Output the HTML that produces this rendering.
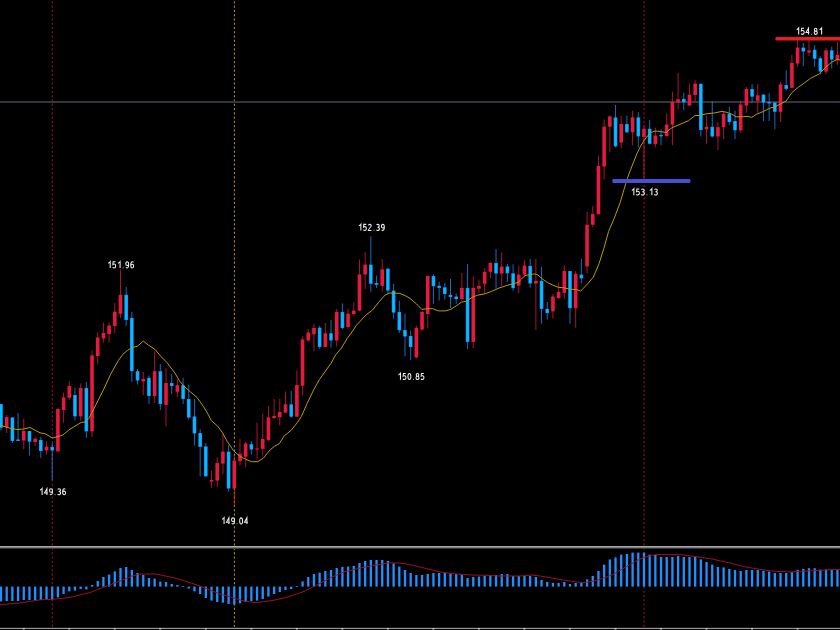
<!DOCTYPE html><html><head><meta charset="utf-8"><title>Chart</title><style>html,body{margin:0;padding:0;background:#000;overflow:hidden}svg{display:block}</style></head><body>
<svg width="840" height="630" viewBox="0 0 840 630">
<rect width="840" height="630" fill="#000"/>
<line x1="52.3" y1="0" x2="52.3" y2="546" stroke="#dc143c" stroke-width="0.8" stroke-dasharray="2.134 2.134" stroke-dashoffset="2.934"/><line x1="52.3" y1="547.933" x2="52.3" y2="627.5" stroke="#dc143c" stroke-width="0.8" stroke-dasharray="2.134 2.134"/>
<line x1="234.4" y1="0" x2="234.4" y2="546" stroke="#f0c000" stroke-width="0.8" stroke-dasharray="2.134 2.134" stroke-dashoffset="2.934"/><line x1="234.4" y1="547.933" x2="234.4" y2="627.5" stroke="#f0c000" stroke-width="0.8" stroke-dasharray="2.134 2.134"/>
<line x1="644.1" y1="0" x2="644.1" y2="546" stroke="#dc143c" stroke-width="0.8" stroke-dasharray="2.134 2.134" stroke-dashoffset="2.934"/><line x1="644.1" y1="547.933" x2="644.1" y2="627.5" stroke="#dc143c" stroke-width="0.8" stroke-dasharray="2.134 2.134"/>
<rect x="0" y="101" width="840" height="2" fill="#30363e"/>
<line x1="1.00" y1="404.0" x2="1.00" y2="430.6" stroke="#1e90ff" stroke-width="0.75"/>
<line x1="6.69" y1="415.0" x2="6.69" y2="433.0" stroke="#e61940" stroke-width="0.75"/>
<line x1="12.38" y1="417.0" x2="12.38" y2="443.0" stroke="#1e90ff" stroke-width="0.75"/>
<line x1="18.07" y1="413.0" x2="18.07" y2="441.0" stroke="#1e90ff" stroke-width="0.75"/>
<line x1="23.76" y1="418.5" x2="23.76" y2="449.4" stroke="#e61940" stroke-width="0.75"/>
<line x1="29.45" y1="431.0" x2="29.45" y2="455.6" stroke="#1e90ff" stroke-width="0.75"/>
<line x1="35.14" y1="437.0" x2="35.14" y2="446.0" stroke="#e61940" stroke-width="0.75"/>
<line x1="40.83" y1="437.0" x2="40.83" y2="458.0" stroke="#1e90ff" stroke-width="0.75"/>
<line x1="46.52" y1="441.0" x2="46.52" y2="454.5" stroke="#e61940" stroke-width="0.75"/>
<line x1="52.21" y1="443.0" x2="52.21" y2="480.3" stroke="#1e90ff" stroke-width="0.75"/>
<line x1="57.90" y1="408.0" x2="57.90" y2="451.4" stroke="#e61940" stroke-width="0.75"/>
<line x1="63.59" y1="392.7" x2="63.59" y2="422.6" stroke="#e61940" stroke-width="0.75"/>
<line x1="69.28" y1="381.0" x2="69.28" y2="400.0" stroke="#e61940" stroke-width="0.75"/>
<line x1="74.97" y1="387.5" x2="74.97" y2="420.5" stroke="#1e90ff" stroke-width="0.75"/>
<line x1="80.66" y1="383.4" x2="80.66" y2="420.5" stroke="#e61940" stroke-width="0.75"/>
<line x1="86.35" y1="382.0" x2="86.35" y2="438.0" stroke="#1e90ff" stroke-width="0.75"/>
<line x1="92.04" y1="350.3" x2="92.04" y2="437.0" stroke="#e61940" stroke-width="0.75"/>
<line x1="97.73" y1="332.3" x2="97.73" y2="364.3" stroke="#e61940" stroke-width="0.75"/>
<line x1="103.42" y1="322.6" x2="103.42" y2="342.6" stroke="#e61940" stroke-width="0.75"/>
<line x1="109.11" y1="322.6" x2="109.11" y2="342.6" stroke="#e61940" stroke-width="0.75"/>
<line x1="114.80" y1="302.8" x2="114.80" y2="333.4" stroke="#e61940" stroke-width="0.75"/>
<line x1="120.49" y1="269.4" x2="120.49" y2="318.0" stroke="#e61940" stroke-width="0.75"/>
<line x1="126.18" y1="287.0" x2="126.18" y2="326.0" stroke="#1e90ff" stroke-width="0.75"/>
<line x1="131.87" y1="311.7" x2="131.87" y2="382.0" stroke="#1e90ff" stroke-width="0.75"/>
<line x1="137.56" y1="369.0" x2="137.56" y2="384.6" stroke="#1e90ff" stroke-width="0.75"/>
<line x1="143.25" y1="372.0" x2="143.25" y2="395.0" stroke="#e61940" stroke-width="0.75"/>
<line x1="148.94" y1="375.3" x2="148.94" y2="404.0" stroke="#1e90ff" stroke-width="0.75"/>
<line x1="154.63" y1="351.5" x2="154.63" y2="403.0" stroke="#e61940" stroke-width="0.75"/>
<line x1="160.32" y1="364.0" x2="160.32" y2="410.0" stroke="#1e90ff" stroke-width="0.75"/>
<line x1="166.01" y1="368.0" x2="166.01" y2="426.4" stroke="#e61940" stroke-width="0.75"/>
<line x1="171.70" y1="374.3" x2="171.70" y2="393.9" stroke="#1e90ff" stroke-width="0.75"/>
<line x1="177.39" y1="379.4" x2="177.39" y2="397.0" stroke="#e61940" stroke-width="0.75"/>
<line x1="183.08" y1="377.8" x2="183.08" y2="404.0" stroke="#1e90ff" stroke-width="0.75"/>
<line x1="188.77" y1="384.6" x2="188.77" y2="419.6" stroke="#1e90ff" stroke-width="0.75"/>
<line x1="194.46" y1="399.0" x2="194.46" y2="445.4" stroke="#1e90ff" stroke-width="0.75"/>
<line x1="200.15" y1="429.3" x2="200.15" y2="476.3" stroke="#1e90ff" stroke-width="0.75"/>
<line x1="205.84" y1="443.0" x2="205.84" y2="476.4" stroke="#1e90ff" stroke-width="0.75"/>
<line x1="211.53" y1="470.8" x2="211.53" y2="487.8" stroke="#e61940" stroke-width="0.75"/>
<line x1="217.22" y1="457.2" x2="217.22" y2="487.0" stroke="#e61940" stroke-width="0.75"/>
<line x1="222.91" y1="434.0" x2="222.91" y2="474.4" stroke="#e61940" stroke-width="0.75"/>
<line x1="228.60" y1="445.0" x2="228.60" y2="491.5" stroke="#1e90ff" stroke-width="0.75"/>
<line x1="234.29" y1="455.7" x2="234.29" y2="506.4" stroke="#e61940" stroke-width="0.75"/>
<line x1="239.98" y1="439.0" x2="239.98" y2="465.7" stroke="#e61940" stroke-width="0.75"/>
<line x1="245.67" y1="442.0" x2="245.67" y2="467.3" stroke="#e61940" stroke-width="0.75"/>
<line x1="251.36" y1="441.2" x2="251.36" y2="454.4" stroke="#1e90ff" stroke-width="0.75"/>
<line x1="257.05" y1="422.5" x2="257.05" y2="459.0" stroke="#e61940" stroke-width="0.75"/>
<line x1="262.74" y1="413.8" x2="262.74" y2="455.5" stroke="#e61940" stroke-width="0.75"/>
<line x1="268.43" y1="406.0" x2="268.43" y2="441.0" stroke="#e61940" stroke-width="0.75"/>
<line x1="274.12" y1="398.8" x2="274.12" y2="419.4" stroke="#e61940" stroke-width="0.75"/>
<line x1="279.81" y1="398.8" x2="279.81" y2="425.6" stroke="#e61940" stroke-width="0.75"/>
<line x1="285.50" y1="391.5" x2="285.50" y2="413.0" stroke="#e61940" stroke-width="0.75"/>
<line x1="291.19" y1="390.5" x2="291.19" y2="418.0" stroke="#1e90ff" stroke-width="0.75"/>
<line x1="296.88" y1="370.5" x2="296.88" y2="416.7" stroke="#e61940" stroke-width="0.75"/>
<line x1="302.57" y1="336.3" x2="302.57" y2="395.3" stroke="#e61940" stroke-width="0.75"/>
<line x1="308.26" y1="329.0" x2="308.26" y2="341.5" stroke="#e61940" stroke-width="0.75"/>
<line x1="313.95" y1="323.6" x2="313.95" y2="350.8" stroke="#e61940" stroke-width="0.75"/>
<line x1="319.64" y1="326.0" x2="319.64" y2="348.7" stroke="#1e90ff" stroke-width="0.75"/>
<line x1="325.33" y1="323.0" x2="325.33" y2="347.0" stroke="#e61940" stroke-width="0.75"/>
<line x1="331.02" y1="319.8" x2="331.02" y2="347.7" stroke="#1e90ff" stroke-width="0.75"/>
<line x1="336.71" y1="309.0" x2="336.71" y2="346.6" stroke="#e61940" stroke-width="0.75"/>
<line x1="342.40" y1="303.4" x2="342.40" y2="329.1" stroke="#1e90ff" stroke-width="0.75"/>
<line x1="348.09" y1="309.0" x2="348.09" y2="328.0" stroke="#e61940" stroke-width="0.75"/>
<line x1="353.78" y1="302.3" x2="353.78" y2="315.7" stroke="#e61940" stroke-width="0.75"/>
<line x1="359.47" y1="259.6" x2="359.47" y2="311.2" stroke="#e61940" stroke-width="0.75"/>
<line x1="365.16" y1="252.2" x2="365.16" y2="289.0" stroke="#e61940" stroke-width="0.75"/>
<line x1="370.85" y1="236.3" x2="370.85" y2="292.0" stroke="#1e90ff" stroke-width="0.75"/>
<line x1="376.54" y1="275.5" x2="376.54" y2="287.9" stroke="#1e90ff" stroke-width="0.75"/>
<line x1="382.23" y1="259.0" x2="382.23" y2="291.4" stroke="#e61940" stroke-width="0.75"/>
<line x1="387.92" y1="267.9" x2="387.92" y2="294.0" stroke="#1e90ff" stroke-width="0.75"/>
<line x1="393.61" y1="283.8" x2="393.61" y2="318.8" stroke="#1e90ff" stroke-width="0.75"/>
<line x1="399.30" y1="300.8" x2="399.30" y2="332.9" stroke="#1e90ff" stroke-width="0.75"/>
<line x1="404.99" y1="313.5" x2="404.99" y2="356.3" stroke="#1e90ff" stroke-width="0.75"/>
<line x1="410.68" y1="330.6" x2="410.68" y2="360.0" stroke="#1e90ff" stroke-width="0.75"/>
<line x1="416.37" y1="325.8" x2="416.37" y2="358.4" stroke="#e61940" stroke-width="0.75"/>
<line x1="422.06" y1="311.0" x2="422.06" y2="331.2" stroke="#e61940" stroke-width="0.75"/>
<line x1="427.75" y1="275.5" x2="427.75" y2="328.5" stroke="#e61940" stroke-width="0.75"/>
<line x1="433.44" y1="274.3" x2="433.44" y2="303.8" stroke="#1e90ff" stroke-width="0.75"/>
<line x1="439.13" y1="281.7" x2="439.13" y2="300.7" stroke="#1e90ff" stroke-width="0.75"/>
<line x1="444.82" y1="283.0" x2="444.82" y2="299.6" stroke="#1e90ff" stroke-width="0.75"/>
<line x1="450.51" y1="279.0" x2="450.51" y2="307.9" stroke="#1e90ff" stroke-width="0.75"/>
<line x1="456.20" y1="293.5" x2="456.20" y2="303.8" stroke="#1e90ff" stroke-width="0.75"/>
<line x1="461.89" y1="272.8" x2="461.89" y2="300.7" stroke="#e61940" stroke-width="0.75"/>
<line x1="467.58" y1="264.0" x2="467.58" y2="349.0" stroke="#1e90ff" stroke-width="0.75"/>
<line x1="473.27" y1="276.3" x2="473.27" y2="348.0" stroke="#e61940" stroke-width="0.75"/>
<line x1="478.96" y1="279.6" x2="478.96" y2="292.8" stroke="#e61940" stroke-width="0.75"/>
<line x1="484.65" y1="268.0" x2="484.65" y2="293.5" stroke="#e61940" stroke-width="0.75"/>
<line x1="490.34" y1="262.0" x2="490.34" y2="278.0" stroke="#e61940" stroke-width="0.75"/>
<line x1="496.03" y1="249.0" x2="496.03" y2="288.7" stroke="#1e90ff" stroke-width="0.75"/>
<line x1="501.72" y1="252.2" x2="501.72" y2="286.2" stroke="#e61940" stroke-width="0.75"/>
<line x1="507.41" y1="264.0" x2="507.41" y2="282.0" stroke="#1e90ff" stroke-width="0.75"/>
<line x1="513.10" y1="264.4" x2="513.10" y2="290.7" stroke="#1e90ff" stroke-width="0.75"/>
<line x1="518.79" y1="265.6" x2="518.79" y2="293.2" stroke="#e61940" stroke-width="0.75"/>
<line x1="524.48" y1="260.2" x2="524.48" y2="276.7" stroke="#e61940" stroke-width="0.75"/>
<line x1="530.17" y1="258.8" x2="530.17" y2="287.6" stroke="#1e90ff" stroke-width="0.75"/>
<line x1="535.86" y1="258.8" x2="535.86" y2="330.0" stroke="#e61940" stroke-width="0.75"/>
<line x1="541.55" y1="267.0" x2="541.55" y2="323.7" stroke="#1e90ff" stroke-width="0.75"/>
<line x1="547.24" y1="302.0" x2="547.24" y2="319.6" stroke="#1e90ff" stroke-width="0.75"/>
<line x1="552.93" y1="293.8" x2="552.93" y2="318.6" stroke="#e61940" stroke-width="0.75"/>
<line x1="558.62" y1="282.5" x2="558.62" y2="299.0" stroke="#e61940" stroke-width="0.75"/>
<line x1="564.31" y1="265.0" x2="564.31" y2="298.6" stroke="#e61940" stroke-width="0.75"/>
<line x1="570.00" y1="271.0" x2="570.00" y2="323.7" stroke="#1e90ff" stroke-width="0.75"/>
<line x1="575.69" y1="271.0" x2="575.69" y2="327.8" stroke="#e61940" stroke-width="0.75"/>
<line x1="581.38" y1="258.8" x2="581.38" y2="283.5" stroke="#1e90ff" stroke-width="0.75"/>
<line x1="587.07" y1="212.0" x2="587.07" y2="273.2" stroke="#e61940" stroke-width="0.75"/>
<line x1="592.76" y1="205.8" x2="592.76" y2="227.2" stroke="#e61940" stroke-width="0.75"/>
<line x1="598.45" y1="155.6" x2="598.45" y2="214.4" stroke="#e61940" stroke-width="0.75"/>
<line x1="604.14" y1="119.5" x2="604.14" y2="179.3" stroke="#e61940" stroke-width="0.75"/>
<line x1="609.83" y1="115.4" x2="609.83" y2="152.5" stroke="#e61940" stroke-width="0.75"/>
<line x1="615.52" y1="105.0" x2="615.52" y2="147.3" stroke="#1e90ff" stroke-width="0.75"/>
<line x1="621.21" y1="115.8" x2="621.21" y2="148.0" stroke="#e61940" stroke-width="0.75"/>
<line x1="626.90" y1="115.8" x2="626.90" y2="132.9" stroke="#1e90ff" stroke-width="0.75"/>
<line x1="632.59" y1="110.8" x2="632.59" y2="145.3" stroke="#e61940" stroke-width="0.75"/>
<line x1="638.28" y1="112.3" x2="638.28" y2="147.3" stroke="#1e90ff" stroke-width="0.75"/>
<line x1="643.97" y1="125.7" x2="643.97" y2="178.3" stroke="#e61940" stroke-width="0.75"/>
<line x1="649.66" y1="119.9" x2="649.66" y2="144.2" stroke="#1e90ff" stroke-width="0.75"/>
<line x1="655.35" y1="127.7" x2="655.35" y2="147.3" stroke="#e61940" stroke-width="0.75"/>
<line x1="661.04" y1="129.4" x2="661.04" y2="145.3" stroke="#1e90ff" stroke-width="0.75"/>
<line x1="666.73" y1="113.3" x2="666.73" y2="137.0" stroke="#e61940" stroke-width="0.75"/>
<line x1="672.42" y1="91.6" x2="672.42" y2="145.3" stroke="#e61940" stroke-width="0.75"/>
<line x1="678.11" y1="73.0" x2="678.11" y2="109.2" stroke="#e61940" stroke-width="0.75"/>
<line x1="683.80" y1="92.7" x2="683.80" y2="110.2" stroke="#1e90ff" stroke-width="0.75"/>
<line x1="689.49" y1="83.4" x2="689.49" y2="106.0" stroke="#e61940" stroke-width="0.75"/>
<line x1="695.18" y1="80.3" x2="695.18" y2="102.0" stroke="#e61940" stroke-width="0.75"/>
<line x1="700.87" y1="82.9" x2="700.87" y2="136.5" stroke="#1e90ff" stroke-width="0.75"/>
<line x1="706.56" y1="115.9" x2="706.56" y2="143.7" stroke="#e61940" stroke-width="0.75"/>
<line x1="712.25" y1="101.4" x2="712.25" y2="137.5" stroke="#1e90ff" stroke-width="0.75"/>
<line x1="717.94" y1="122.0" x2="717.94" y2="150.0" stroke="#e61940" stroke-width="0.75"/>
<line x1="723.63" y1="111.8" x2="723.63" y2="139.2" stroke="#e61940" stroke-width="0.75"/>
<line x1="729.32" y1="106.6" x2="729.32" y2="124.7" stroke="#1e90ff" stroke-width="0.75"/>
<line x1="735.01" y1="110.7" x2="735.01" y2="139.2" stroke="#1e90ff" stroke-width="0.75"/>
<line x1="740.70" y1="100.4" x2="740.70" y2="133.0" stroke="#e61940" stroke-width="0.75"/>
<line x1="746.39" y1="87.0" x2="746.39" y2="112.8" stroke="#e61940" stroke-width="0.75"/>
<line x1="752.08" y1="84.3" x2="752.08" y2="102.5" stroke="#1e90ff" stroke-width="0.75"/>
<line x1="757.77" y1="83.9" x2="757.77" y2="112.8" stroke="#e61940" stroke-width="0.75"/>
<line x1="763.46" y1="94.2" x2="763.46" y2="121.0" stroke="#1e90ff" stroke-width="0.75"/>
<line x1="769.15" y1="93.2" x2="769.15" y2="121.0" stroke="#1e90ff" stroke-width="0.75"/>
<line x1="774.84" y1="102.0" x2="774.84" y2="129.3" stroke="#1e90ff" stroke-width="0.75"/>
<line x1="780.53" y1="81.9" x2="780.53" y2="122.0" stroke="#e61940" stroke-width="0.75"/>
<line x1="786.22" y1="70.3" x2="786.22" y2="90.5" stroke="#1e90ff" stroke-width="0.75"/>
<line x1="791.91" y1="54.7" x2="791.91" y2="88.0" stroke="#e61940" stroke-width="0.75"/>
<line x1="797.60" y1="39.3" x2="797.60" y2="67.0" stroke="#e61940" stroke-width="0.75"/>
<line x1="803.29" y1="43.0" x2="803.29" y2="66.3" stroke="#1e90ff" stroke-width="0.75"/>
<line x1="808.98" y1="39.3" x2="808.98" y2="56.1" stroke="#e61940" stroke-width="0.75"/>
<line x1="814.67" y1="45.3" x2="814.67" y2="67.0" stroke="#1e90ff" stroke-width="0.75"/>
<line x1="820.36" y1="56.5" x2="820.36" y2="74.3" stroke="#1e90ff" stroke-width="0.75"/>
<line x1="826.05" y1="48.0" x2="826.05" y2="74.3" stroke="#e61940" stroke-width="0.75"/>
<line x1="831.74" y1="46.7" x2="831.74" y2="68.3" stroke="#1e90ff" stroke-width="0.75"/>
<line x1="837.43" y1="42.0" x2="837.43" y2="64.9" stroke="#e61940" stroke-width="0.75"/>
<rect x="-0.80" y="404.0" width="3.6" height="23.80" fill="#1e90ff"/>
<rect x="-0.10" y="404.70" width="2.2" height="22.40" fill="#00bfff"/>
<rect x="4.89" y="417.0" width="3.6" height="10.30" fill="#e61940"/>
<rect x="10.58" y="417.4" width="3.6" height="23.60" fill="#1e90ff"/>
<rect x="11.28" y="418.10" width="2.2" height="22.20" fill="#00bfff"/>
<rect x="16.27" y="439.5" width="3.6" height="1.50" fill="#1e90ff"/>
<rect x="21.96" y="431.0" width="3.6" height="9.50" fill="#e61940"/>
<rect x="27.65" y="431.0" width="3.6" height="10.70" fill="#1e90ff"/>
<rect x="28.35" y="431.70" width="2.2" height="9.30" fill="#00bfff"/>
<rect x="33.34" y="438.7" width="3.6" height="3.30" fill="#e61940"/>
<rect x="39.03" y="440.0" width="3.6" height="11.00" fill="#1e90ff"/>
<rect x="39.73" y="440.70" width="2.2" height="9.60" fill="#00bfff"/>
<rect x="44.72" y="446.7" width="3.6" height="3.70" fill="#e61940"/>
<rect x="50.41" y="447.0" width="3.6" height="3.40" fill="#1e90ff"/>
<rect x="51.11" y="447.70" width="2.2" height="2.00" fill="#00bfff"/>
<rect x="56.10" y="409.0" width="3.6" height="42.40" fill="#e61940"/>
<rect x="61.79" y="397.4" width="3.6" height="12.60" fill="#e61940"/>
<rect x="67.48" y="386.0" width="3.6" height="11.80" fill="#e61940"/>
<rect x="73.17" y="395.0" width="3.6" height="21.40" fill="#1e90ff"/>
<rect x="73.87" y="395.70" width="2.2" height="20.00" fill="#00bfff"/>
<rect x="78.86" y="388.0" width="3.6" height="28.40" fill="#e61940"/>
<rect x="84.55" y="388.0" width="3.6" height="43.40" fill="#1e90ff"/>
<rect x="85.25" y="388.70" width="2.2" height="42.00" fill="#00bfff"/>
<rect x="90.24" y="355.4" width="3.6" height="76.00" fill="#e61940"/>
<rect x="95.93" y="337.5" width="3.6" height="18.50" fill="#e61940"/>
<rect x="101.62" y="333.0" width="3.6" height="5.50" fill="#e61940"/>
<rect x="107.31" y="325.5" width="3.6" height="8.50" fill="#e61940"/>
<rect x="113.00" y="311.7" width="3.6" height="14.30" fill="#e61940"/>
<rect x="118.69" y="294.8" width="3.6" height="19.00" fill="#e61940"/>
<rect x="124.38" y="294.8" width="3.6" height="25.20" fill="#1e90ff"/>
<rect x="125.08" y="295.50" width="2.2" height="23.80" fill="#00bfff"/>
<rect x="130.07" y="318.0" width="3.6" height="53.20" fill="#1e90ff"/>
<rect x="130.77" y="318.70" width="2.2" height="51.80" fill="#00bfff"/>
<rect x="135.76" y="371.2" width="3.6" height="9.30" fill="#1e90ff"/>
<rect x="136.46" y="371.90" width="2.2" height="7.90" fill="#00bfff"/>
<rect x="141.45" y="379.0" width="3.6" height="2.50" fill="#e61940"/>
<rect x="147.14" y="377.8" width="3.6" height="18.20" fill="#1e90ff"/>
<rect x="147.84" y="378.50" width="2.2" height="16.80" fill="#00bfff"/>
<rect x="152.83" y="371.2" width="3.6" height="24.80" fill="#e61940"/>
<rect x="158.52" y="371.2" width="3.6" height="32.80" fill="#1e90ff"/>
<rect x="159.22" y="371.90" width="2.2" height="31.40" fill="#00bfff"/>
<rect x="164.21" y="383.0" width="3.6" height="21.80" fill="#e61940"/>
<rect x="169.90" y="383.0" width="3.6" height="3.00" fill="#1e90ff"/>
<rect x="170.60" y="383.70" width="2.2" height="1.60" fill="#00bfff"/>
<rect x="175.59" y="385.2" width="3.6" height="6.60" fill="#e61940"/>
<rect x="181.28" y="385.2" width="3.6" height="13.80" fill="#1e90ff"/>
<rect x="181.98" y="385.90" width="2.2" height="12.40" fill="#00bfff"/>
<rect x="186.97" y="399.0" width="3.6" height="18.60" fill="#1e90ff"/>
<rect x="187.67" y="399.70" width="2.2" height="17.20" fill="#00bfff"/>
<rect x="192.66" y="416.5" width="3.6" height="17.00" fill="#1e90ff"/>
<rect x="193.36" y="417.20" width="2.2" height="15.60" fill="#00bfff"/>
<rect x="198.35" y="433.0" width="3.6" height="13.90" fill="#1e90ff"/>
<rect x="199.05" y="433.70" width="2.2" height="12.50" fill="#00bfff"/>
<rect x="204.04" y="446.4" width="3.6" height="30.00" fill="#1e90ff"/>
<rect x="204.74" y="447.10" width="2.2" height="28.60" fill="#00bfff"/>
<rect x="209.73" y="480.0" width="3.6" height="1.60" fill="#e61940"/>
<rect x="215.42" y="463.0" width="3.6" height="17.60" fill="#e61940"/>
<rect x="221.11" y="451.6" width="3.6" height="12.00" fill="#e61940"/>
<rect x="226.80" y="451.6" width="3.6" height="36.90" fill="#1e90ff"/>
<rect x="227.50" y="452.30" width="2.2" height="35.50" fill="#00bfff"/>
<rect x="232.49" y="460.6" width="3.6" height="27.90" fill="#e61940"/>
<rect x="238.18" y="453.8" width="3.6" height="7.40" fill="#e61940"/>
<rect x="243.87" y="443.5" width="3.6" height="13.20" fill="#e61940"/>
<rect x="249.56" y="444.2" width="3.6" height="5.30" fill="#1e90ff"/>
<rect x="250.26" y="444.90" width="2.2" height="3.90" fill="#00bfff"/>
<rect x="255.25" y="448.5" width="3.6" height="1.10" fill="#e61940"/>
<rect x="260.94" y="439.0" width="3.6" height="9.90" fill="#e61940"/>
<rect x="266.63" y="417.3" width="3.6" height="22.70" fill="#e61940"/>
<rect x="272.32" y="415.9" width="3.6" height="2.10" fill="#e61940"/>
<rect x="278.01" y="412.0" width="3.6" height="5.30" fill="#e61940"/>
<rect x="283.70" y="404.3" width="3.6" height="8.30" fill="#e61940"/>
<rect x="289.39" y="404.3" width="3.6" height="12.40" fill="#1e90ff"/>
<rect x="290.09" y="405.00" width="2.2" height="11.00" fill="#00bfff"/>
<rect x="295.08" y="385.0" width="3.6" height="31.70" fill="#e61940"/>
<rect x="300.77" y="339.4" width="3.6" height="46.40" fill="#e61940"/>
<rect x="306.46" y="332.6" width="3.6" height="7.90" fill="#e61940"/>
<rect x="312.15" y="328.0" width="3.6" height="6.30" fill="#e61940"/>
<rect x="317.84" y="327.7" width="3.6" height="19.30" fill="#1e90ff"/>
<rect x="318.54" y="328.40" width="2.2" height="17.90" fill="#00bfff"/>
<rect x="323.53" y="333.2" width="3.6" height="13.80" fill="#e61940"/>
<rect x="329.22" y="333.2" width="3.6" height="7.30" fill="#1e90ff"/>
<rect x="329.92" y="333.90" width="2.2" height="5.90" fill="#00bfff"/>
<rect x="334.91" y="312.0" width="3.6" height="28.50" fill="#e61940"/>
<rect x="340.60" y="312.0" width="3.6" height="16.00" fill="#1e90ff"/>
<rect x="341.30" y="312.70" width="2.2" height="14.60" fill="#00bfff"/>
<rect x="346.29" y="313.7" width="3.6" height="13.30" fill="#e61940"/>
<rect x="351.98" y="310.6" width="3.6" height="3.40" fill="#e61940"/>
<rect x="357.67" y="274.5" width="3.6" height="36.10" fill="#e61940"/>
<rect x="363.36" y="264.6" width="3.6" height="9.90" fill="#e61940"/>
<rect x="369.05" y="264.6" width="3.6" height="19.20" fill="#1e90ff"/>
<rect x="369.75" y="265.30" width="2.2" height="17.80" fill="#00bfff"/>
<rect x="374.74" y="283.0" width="3.6" height="1.80" fill="#1e90ff"/>
<rect x="375.44" y="283.70" width="2.2" height="0.40" fill="#00bfff"/>
<rect x="380.43" y="269.3" width="3.6" height="16.50" fill="#e61940"/>
<rect x="386.12" y="268.7" width="3.6" height="21.90" fill="#1e90ff"/>
<rect x="386.82" y="269.40" width="2.2" height="20.50" fill="#00bfff"/>
<rect x="391.81" y="290.6" width="3.6" height="22.00" fill="#1e90ff"/>
<rect x="392.51" y="291.30" width="2.2" height="20.60" fill="#00bfff"/>
<rect x="397.50" y="312.0" width="3.6" height="18.30" fill="#1e90ff"/>
<rect x="398.20" y="312.70" width="2.2" height="16.90" fill="#00bfff"/>
<rect x="403.19" y="330.0" width="3.6" height="6.50" fill="#1e90ff"/>
<rect x="403.89" y="330.70" width="2.2" height="5.10" fill="#00bfff"/>
<rect x="408.88" y="336.0" width="3.6" height="11.00" fill="#1e90ff"/>
<rect x="409.58" y="336.70" width="2.2" height="9.60" fill="#00bfff"/>
<rect x="414.57" y="327.9" width="3.6" height="29.50" fill="#e61940"/>
<rect x="420.26" y="312.0" width="3.6" height="17.50" fill="#e61940"/>
<rect x="425.95" y="276.0" width="3.6" height="38.00" fill="#e61940"/>
<rect x="431.64" y="276.0" width="3.6" height="10.20" fill="#1e90ff"/>
<rect x="432.34" y="276.70" width="2.2" height="8.80" fill="#00bfff"/>
<rect x="437.33" y="285.8" width="3.6" height="2.10" fill="#1e90ff"/>
<rect x="438.03" y="286.50" width="2.2" height="0.70" fill="#00bfff"/>
<rect x="443.02" y="287.3" width="3.6" height="6.70" fill="#1e90ff"/>
<rect x="443.72" y="288.00" width="2.2" height="5.30" fill="#00bfff"/>
<rect x="448.71" y="294.9" width="3.6" height="2.10" fill="#1e90ff"/>
<rect x="449.41" y="295.60" width="2.2" height="0.70" fill="#00bfff"/>
<rect x="454.40" y="296.5" width="3.6" height="2.50" fill="#1e90ff"/>
<rect x="455.10" y="297.20" width="2.2" height="1.10" fill="#00bfff"/>
<rect x="460.09" y="287.9" width="3.6" height="11.10" fill="#e61940"/>
<rect x="465.78" y="287.9" width="3.6" height="54.00" fill="#1e90ff"/>
<rect x="466.48" y="288.60" width="2.2" height="52.60" fill="#00bfff"/>
<rect x="471.47" y="287.9" width="3.6" height="54.00" fill="#e61940"/>
<rect x="477.16" y="285.8" width="3.6" height="2.90" fill="#e61940"/>
<rect x="482.85" y="271.8" width="3.6" height="12.00" fill="#e61940"/>
<rect x="488.54" y="263.0" width="3.6" height="8.80" fill="#e61940"/>
<rect x="494.23" y="263.0" width="3.6" height="10.50" fill="#1e90ff"/>
<rect x="494.93" y="263.70" width="2.2" height="9.10" fill="#00bfff"/>
<rect x="499.92" y="266.6" width="3.6" height="6.90" fill="#e61940"/>
<rect x="505.61" y="266.5" width="3.6" height="6.80" fill="#1e90ff"/>
<rect x="506.31" y="267.20" width="2.2" height="5.40" fill="#00bfff"/>
<rect x="511.30" y="273.3" width="3.6" height="14.90" fill="#1e90ff"/>
<rect x="512.00" y="274.00" width="2.2" height="13.50" fill="#00bfff"/>
<rect x="516.99" y="274.6" width="3.6" height="11.00" fill="#e61940"/>
<rect x="522.68" y="265.6" width="3.6" height="9.00" fill="#e61940"/>
<rect x="528.37" y="266.0" width="3.6" height="17.50" fill="#1e90ff"/>
<rect x="529.07" y="266.70" width="2.2" height="16.10" fill="#00bfff"/>
<rect x="534.06" y="280.8" width="3.6" height="2.70" fill="#e61940"/>
<rect x="539.75" y="280.8" width="3.6" height="28.10" fill="#1e90ff"/>
<rect x="540.45" y="281.50" width="2.2" height="26.70" fill="#00bfff"/>
<rect x="545.44" y="308.9" width="3.6" height="4.10" fill="#1e90ff"/>
<rect x="546.14" y="309.60" width="2.2" height="2.70" fill="#00bfff"/>
<rect x="551.13" y="296.5" width="3.6" height="14.80" fill="#e61940"/>
<rect x="556.82" y="291.8" width="3.6" height="6.20" fill="#e61940"/>
<rect x="562.51" y="271.0" width="3.6" height="21.80" fill="#e61940"/>
<rect x="568.20" y="271.0" width="3.6" height="37.20" fill="#1e90ff"/>
<rect x="568.90" y="271.70" width="2.2" height="35.80" fill="#00bfff"/>
<rect x="573.89" y="273.8" width="3.6" height="34.40" fill="#e61940"/>
<rect x="579.58" y="274.6" width="3.6" height="3.80" fill="#1e90ff"/>
<rect x="580.28" y="275.30" width="2.2" height="2.40" fill="#00bfff"/>
<rect x="585.27" y="224.7" width="3.6" height="41.70" fill="#e61940"/>
<rect x="590.96" y="214.0" width="3.6" height="10.70" fill="#e61940"/>
<rect x="596.65" y="165.9" width="3.6" height="48.50" fill="#e61940"/>
<rect x="602.34" y="126.7" width="3.6" height="39.80" fill="#e61940"/>
<rect x="608.03" y="116.4" width="3.6" height="10.30" fill="#e61940"/>
<rect x="613.72" y="117.4" width="3.6" height="28.90" fill="#1e90ff"/>
<rect x="614.42" y="118.10" width="2.2" height="27.50" fill="#00bfff"/>
<rect x="619.41" y="124.0" width="3.6" height="18.60" fill="#e61940"/>
<rect x="625.10" y="124.0" width="3.6" height="8.30" fill="#1e90ff"/>
<rect x="625.80" y="124.70" width="2.2" height="6.90" fill="#00bfff"/>
<rect x="630.79" y="117.4" width="3.6" height="14.90" fill="#e61940"/>
<rect x="636.48" y="117.4" width="3.6" height="19.00" fill="#1e90ff"/>
<rect x="637.18" y="118.10" width="2.2" height="17.60" fill="#00bfff"/>
<rect x="642.17" y="128.8" width="3.6" height="8.20" fill="#e61940"/>
<rect x="647.86" y="128.8" width="3.6" height="15.00" fill="#1e90ff"/>
<rect x="648.56" y="129.50" width="2.2" height="13.60" fill="#00bfff"/>
<rect x="653.55" y="135.6" width="3.6" height="8.60" fill="#e61940"/>
<rect x="659.24" y="135.0" width="3.6" height="1.40" fill="#1e90ff"/>
<rect x="664.93" y="124.6" width="3.6" height="11.40" fill="#e61940"/>
<rect x="670.62" y="102.0" width="3.6" height="22.60" fill="#e61940"/>
<rect x="676.31" y="99.3" width="3.6" height="3.30" fill="#e61940"/>
<rect x="682.00" y="98.9" width="3.6" height="3.30" fill="#1e90ff"/>
<rect x="682.70" y="99.60" width="2.2" height="1.90" fill="#00bfff"/>
<rect x="687.69" y="94.7" width="3.6" height="10.80" fill="#e61940"/>
<rect x="693.38" y="83.6" width="3.6" height="11.40" fill="#e61940"/>
<rect x="699.07" y="83.9" width="3.6" height="46.10" fill="#1e90ff"/>
<rect x="699.77" y="84.60" width="2.2" height="44.70" fill="#00bfff"/>
<rect x="704.76" y="126.8" width="3.6" height="2.50" fill="#e61940"/>
<rect x="710.45" y="126.8" width="3.6" height="9.70" fill="#1e90ff"/>
<rect x="711.15" y="127.50" width="2.2" height="8.30" fill="#00bfff"/>
<rect x="716.14" y="127.2" width="3.6" height="9.30" fill="#e61940"/>
<rect x="721.83" y="113.8" width="3.6" height="13.40" fill="#e61940"/>
<rect x="727.52" y="113.8" width="3.6" height="8.20" fill="#1e90ff"/>
<rect x="728.22" y="114.50" width="2.2" height="6.80" fill="#00bfff"/>
<rect x="733.21" y="121.0" width="3.6" height="9.30" fill="#1e90ff"/>
<rect x="733.91" y="121.70" width="2.2" height="7.90" fill="#00bfff"/>
<rect x="738.90" y="104.5" width="3.6" height="25.80" fill="#e61940"/>
<rect x="744.59" y="89.0" width="3.6" height="16.60" fill="#e61940"/>
<rect x="750.28" y="89.0" width="3.6" height="7.70" fill="#1e90ff"/>
<rect x="750.98" y="89.70" width="2.2" height="6.30" fill="#00bfff"/>
<rect x="755.97" y="95.3" width="3.6" height="5.50" fill="#e61940"/>
<rect x="761.66" y="94.6" width="3.6" height="7.90" fill="#1e90ff"/>
<rect x="762.36" y="95.30" width="2.2" height="6.50" fill="#00bfff"/>
<rect x="767.35" y="102.0" width="3.6" height="1.50" fill="#1e90ff"/>
<rect x="773.04" y="102.5" width="3.6" height="9.30" fill="#1e90ff"/>
<rect x="773.74" y="103.20" width="2.2" height="7.90" fill="#00bfff"/>
<rect x="778.73" y="84.3" width="3.6" height="27.50" fill="#e61940"/>
<rect x="784.42" y="85.1" width="3.6" height="3.80" fill="#1e90ff"/>
<rect x="785.12" y="85.80" width="2.2" height="2.40" fill="#00bfff"/>
<rect x="790.11" y="62.9" width="3.6" height="24.90" fill="#e61940"/>
<rect x="795.80" y="47.6" width="3.6" height="16.00" fill="#e61940"/>
<rect x="801.49" y="47.6" width="3.6" height="3.90" fill="#1e90ff"/>
<rect x="802.19" y="48.30" width="2.2" height="2.50" fill="#00bfff"/>
<rect x="807.18" y="50.4" width="3.6" height="2.10" fill="#e61940"/>
<rect x="812.87" y="49.8" width="3.6" height="9.00" fill="#1e90ff"/>
<rect x="813.57" y="50.50" width="2.2" height="7.60" fill="#00bfff"/>
<rect x="818.56" y="58.2" width="3.6" height="13.40" fill="#1e90ff"/>
<rect x="819.26" y="58.90" width="2.2" height="12.00" fill="#00bfff"/>
<rect x="824.25" y="50.3" width="3.6" height="21.30" fill="#e61940"/>
<rect x="829.94" y="50.3" width="3.6" height="9.20" fill="#1e90ff"/>
<rect x="830.64" y="51.00" width="2.2" height="7.80" fill="#00bfff"/>
<rect x="835.63" y="54.8" width="3.6" height="5.40" fill="#e61940"/>
<polyline fill="none" stroke="#bc9a00" stroke-width="1" stroke-linejoin="round" points="0,424.8 6.2,427.2 12.4,428.8 18,429.5 23.7,429 30,427.5 40,432.8 45.6,433.9 52.2,438 57.8,436.7 62.8,435 68.9,430 73.3,427.2 78.9,423.9 81.1,422.4 85.6,422 88.9,418.3 93.3,410 98.3,400 103.9,388.9 110.6,374.4 118.3,360.6 122.8,354.4 127.2,350.6 131.7,347.6 137.2,346.4 143.3,341.1 148.3,345 155,349.4 160.6,356.1 167.2,362.8 170,366.6 174.8,372.9 179.5,380.9 184.3,386.4 190.6,392 197,397.5 203.3,406.3 208.1,414.2 211.3,420.6 217.6,426.1 222.4,432.5 227.1,441.2 233.5,450.7 239.8,456.3 245.7,459.3 251.4,461.7 257.9,461.7 263.6,457.9 270,450 274.3,446.4 279.3,443.6 284.3,435.7 287.1,433.6 291.4,430 297.1,422.9 301.4,416.4 307.1,403.6 313.8,389.5 319.5,379.5 326.2,370 331,363.3 335.7,354.8 341.4,348.1 347.1,338.6 353.3,330 356.5,325.2 366,314.9 372.4,310.2 378.7,302.2 385.1,295.1 389.8,293 399.4,293.3 405.7,295.9 410,298.4 416.4,303.8 421.8,309.4 427.1,308.8 432.5,308.6 438.4,310.9 445.4,310.9 450.7,309.4 456.1,305.9 461.4,302.2 466.8,301.1 472.2,297.3 477.5,295.2 485,293.8 491.5,291.4 500,287.7 507.9,285.2 512.1,284.1 518,282.5 521.3,279.3 525,275.5 530.4,274.5 534.7,273.9 537.9,275 542.2,278.8 547.5,282.5 552.9,285.2 558.2,287.3 564.7,287.9 570,289.2 576.5,289.5 580.7,291.1 587.6,283.8 593.3,277.1 599,263.8 603.8,248.6 608.6,231.4 614.3,218.1 620,202.9 625.7,183.8 627.4,178.3 630.2,170.7 633.6,162.1 636.9,153.6 640.2,146.9 643.6,141.2 647.4,136 651.2,132.6 654,131.2 657.9,131.2 661.7,131.7 666,132.5 671.9,127.7 679,124.8 688.6,120.6 695.1,115.5 700.5,115.5 705.2,114 714.8,112.9 721.9,111.4 726.7,112.3 731.4,114 736.2,116.8 743.3,116.7 748.1,116.4 751.7,117.4 756.4,114.3 762.8,111.7 769.4,108.3 775,106.7 780.6,103.9 786.1,101.1 791.7,92.8 798.3,87.2 803.9,83.3 810.6,78.3 819.4,73.9 825,67.8 831.7,62.2 837.2,59.4 840,60"/>
<rect x="612.4" y="179.1" width="78" height="3.8" rx="1.2" fill="#4650d2"/>
<rect x="775.3" y="37.1" width="70" height="3.4" rx="1.5" fill="#e61e23"/>
<g role="img" aria-label="151.96" fill="none" stroke="#eeeeee" stroke-width="1.05"><title>151.96</title><path transform="translate(107.33,261.40)" d="M0.8,1.95 C1.8,1.55 2.4,1.0 2.85,0.3 L2.85,6.7"/><path transform="translate(112.28,261.40)" d="M3.25,0.45 L0.85,0.45 L0.6,3.15 C1.0,2.85 1.4,2.7 1.9,2.7 C2.85,2.7 3.4,3.4 3.4,4.55 C3.4,5.8 2.7,6.55 1.75,6.55 C1.2,6.55 0.7,6.35 0.35,5.85"/><path transform="translate(117.23,261.40)" d="M0.8,1.95 C1.8,1.55 2.4,1.0 2.85,0.3 L2.85,6.7"/><rect x="122.73" y="267.35" width="0.9" height="0.95" fill="#c8c8c8" stroke="none"/><path transform="translate(125.33,261.40)" d="M0.65,6.0 C0.95,6.4 1.35,6.55 1.8,6.55 C2.8,6.55 3.35,5.4 3.35,3.2 C3.35,1.4 2.8,0.45 1.85,0.45 C1.0,0.45 0.45,1.2 0.45,2.3 C0.45,3.4 1.0,4.1 1.85,4.1 C2.6,4.1 3.1,3.7 3.35,3.1"/><path transform="translate(130.28,261.40)" d="M3.15,1.0 C2.85,0.6 2.45,0.45 2.0,0.45 C1.0,0.45 0.45,1.6 0.45,3.8 C0.45,5.6 1.0,6.55 1.95,6.55 C2.8,6.55 3.35,5.8 3.35,4.7 C3.35,3.6 2.8,2.9 1.95,2.9 C1.2,2.9 0.7,3.3 0.45,3.9"/></g>
<g role="img" aria-label="149.36" fill="none" stroke="#eeeeee" stroke-width="1.05"><title>149.36</title><path transform="translate(39.23,488.20)" d="M0.8,1.95 C1.8,1.55 2.4,1.0 2.85,0.3 L2.85,6.7"/><path transform="translate(44.18,488.20)" d="M2.75,6.7 L2.75,0.45 L0.3,4.75 L3.65,4.75"/><path transform="translate(49.12,488.20)" d="M0.65,6.0 C0.95,6.4 1.35,6.55 1.8,6.55 C2.8,6.55 3.35,5.4 3.35,3.2 C3.35,1.4 2.8,0.45 1.85,0.45 C1.0,0.45 0.45,1.2 0.45,2.3 C0.45,3.4 1.0,4.1 1.85,4.1 C2.6,4.1 3.1,3.7 3.35,3.1"/><rect x="54.63" y="494.15" width="0.9" height="0.95" fill="#c8c8c8" stroke="none"/><path transform="translate(57.23,488.20)" d="M0.5,1.1 C0.9,0.6 1.35,0.45 1.85,0.45 C2.75,0.45 3.25,0.95 3.25,1.75 C3.25,2.7 2.6,3.3 1.45,3.3 C2.8,3.3 3.4,3.95 3.4,4.9 C3.4,5.9 2.7,6.55 1.75,6.55 C1.2,6.55 0.7,6.35 0.35,5.85"/><path transform="translate(62.18,488.20)" d="M3.15,1.0 C2.85,0.6 2.45,0.45 2.0,0.45 C1.0,0.45 0.45,1.6 0.45,3.8 C0.45,5.6 1.0,6.55 1.95,6.55 C2.8,6.55 3.35,5.8 3.35,4.7 C3.35,3.6 2.8,2.9 1.95,2.9 C1.2,2.9 0.7,3.3 0.45,3.9"/></g>
<g role="img" aria-label="149.04" fill="none" stroke="#eeeeee" stroke-width="1.05"><title>149.04</title><path transform="translate(221.22,517.40)" d="M0.8,1.95 C1.8,1.55 2.4,1.0 2.85,0.3 L2.85,6.7"/><path transform="translate(226.17,517.40)" d="M2.75,6.7 L2.75,0.45 L0.3,4.75 L3.65,4.75"/><path transform="translate(231.12,517.40)" d="M0.65,6.0 C0.95,6.4 1.35,6.55 1.8,6.55 C2.8,6.55 3.35,5.4 3.35,3.2 C3.35,1.4 2.8,0.45 1.85,0.45 C1.0,0.45 0.45,1.2 0.45,2.3 C0.45,3.4 1.0,4.1 1.85,4.1 C2.6,4.1 3.1,3.7 3.35,3.1"/><rect x="236.62" y="523.35" width="0.9" height="0.95" fill="#c8c8c8" stroke="none"/><path transform="translate(239.22,517.40)" d="M1.9,0.45 C2.8,0.45 3.35,1.5 3.35,3.5 C3.35,5.5 2.8,6.55 1.9,6.55 C1.0,6.55 0.45,5.5 0.45,3.5 C0.45,1.5 1.0,0.45 1.9,0.45 Z"/><path transform="translate(244.17,517.40)" d="M2.75,6.7 L2.75,0.45 L0.3,4.75 L3.65,4.75"/></g>
<g role="img" aria-label="152.39" fill="none" stroke="#eeeeee" stroke-width="1.05"><title>152.39</title><path transform="translate(358.02,223.90)" d="M0.8,1.95 C1.8,1.55 2.4,1.0 2.85,0.3 L2.85,6.7"/><path transform="translate(362.97,223.90)" d="M3.25,0.45 L0.85,0.45 L0.6,3.15 C1.0,2.85 1.4,2.7 1.9,2.7 C2.85,2.7 3.4,3.4 3.4,4.55 C3.4,5.8 2.7,6.55 1.75,6.55 C1.2,6.55 0.7,6.35 0.35,5.85"/><path transform="translate(367.92,223.90)" d="M0.55,1.5 C0.8,0.8 1.3,0.45 1.95,0.45 C2.8,0.45 3.3,1.0 3.3,1.85 C3.3,3.3 0.5,4.6 0.45,6.55 L3.45,6.55"/><rect x="373.42" y="229.85" width="0.9" height="0.95" fill="#c8c8c8" stroke="none"/><path transform="translate(376.02,223.90)" d="M0.5,1.1 C0.9,0.6 1.35,0.45 1.85,0.45 C2.75,0.45 3.25,0.95 3.25,1.75 C3.25,2.7 2.6,3.3 1.45,3.3 C2.8,3.3 3.4,3.95 3.4,4.9 C3.4,5.9 2.7,6.55 1.75,6.55 C1.2,6.55 0.7,6.35 0.35,5.85"/><path transform="translate(380.97,223.90)" d="M0.65,6.0 C0.95,6.4 1.35,6.55 1.8,6.55 C2.8,6.55 3.35,5.4 3.35,3.2 C3.35,1.4 2.8,0.45 1.85,0.45 C1.0,0.45 0.45,1.2 0.45,2.3 C0.45,3.4 1.0,4.1 1.85,4.1 C2.6,4.1 3.1,3.7 3.35,3.1"/></g>
<g role="img" aria-label="150.85" fill="none" stroke="#eeeeee" stroke-width="1.05"><title>150.85</title><path transform="translate(397.62,373.00)" d="M0.8,1.95 C1.8,1.55 2.4,1.0 2.85,0.3 L2.85,6.7"/><path transform="translate(402.57,373.00)" d="M3.25,0.45 L0.85,0.45 L0.6,3.15 C1.0,2.85 1.4,2.7 1.9,2.7 C2.85,2.7 3.4,3.4 3.4,4.55 C3.4,5.8 2.7,6.55 1.75,6.55 C1.2,6.55 0.7,6.35 0.35,5.85"/><path transform="translate(407.52,373.00)" d="M1.9,0.45 C2.8,0.45 3.35,1.5 3.35,3.5 C3.35,5.5 2.8,6.55 1.9,6.55 C1.0,6.55 0.45,5.5 0.45,3.5 C0.45,1.5 1.0,0.45 1.9,0.45 Z"/><rect x="413.02" y="378.95" width="0.9" height="0.95" fill="#c8c8c8" stroke="none"/><path transform="translate(415.62,373.00)" d="M1.9,0.45 C2.7,0.45 3.15,1.0 3.15,1.85 C3.15,2.7 2.7,3.3 1.9,3.3 C1.1,3.3 0.65,2.7 0.65,1.85 C0.65,1.0 1.1,0.45 1.9,0.45 Z M1.9,3.3 C2.85,3.3 3.4,3.9 3.4,4.9 C3.4,5.95 2.85,6.55 1.9,6.55 C0.95,6.55 0.4,5.95 0.4,4.9 C0.4,3.9 0.95,3.3 1.9,3.3 Z"/><path transform="translate(420.57,373.00)" d="M3.25,0.45 L0.85,0.45 L0.6,3.15 C1.0,2.85 1.4,2.7 1.9,2.7 C2.85,2.7 3.4,3.4 3.4,4.55 C3.4,5.8 2.7,6.55 1.75,6.55 C1.2,6.55 0.7,6.35 0.35,5.85"/></g>
<g role="img" aria-label="153.13" fill="none" stroke="#eeeeee" stroke-width="1.05"><title>153.13</title><path transform="translate(631.02,188.50)" d="M0.8,1.95 C1.8,1.55 2.4,1.0 2.85,0.3 L2.85,6.7"/><path transform="translate(635.98,188.50)" d="M3.25,0.45 L0.85,0.45 L0.6,3.15 C1.0,2.85 1.4,2.7 1.9,2.7 C2.85,2.7 3.4,3.4 3.4,4.55 C3.4,5.8 2.7,6.55 1.75,6.55 C1.2,6.55 0.7,6.35 0.35,5.85"/><path transform="translate(640.92,188.50)" d="M0.5,1.1 C0.9,0.6 1.35,0.45 1.85,0.45 C2.75,0.45 3.25,0.95 3.25,1.75 C3.25,2.7 2.6,3.3 1.45,3.3 C2.8,3.3 3.4,3.95 3.4,4.9 C3.4,5.9 2.7,6.55 1.75,6.55 C1.2,6.55 0.7,6.35 0.35,5.85"/><rect x="646.43" y="194.45" width="0.9" height="0.95" fill="#c8c8c8" stroke="none"/><path transform="translate(649.02,188.50)" d="M0.8,1.95 C1.8,1.55 2.4,1.0 2.85,0.3 L2.85,6.7"/><path transform="translate(653.98,188.50)" d="M0.5,1.1 C0.9,0.6 1.35,0.45 1.85,0.45 C2.75,0.45 3.25,0.95 3.25,1.75 C3.25,2.7 2.6,3.3 1.45,3.3 C2.8,3.3 3.4,3.95 3.4,4.9 C3.4,5.9 2.7,6.55 1.75,6.55 C1.2,6.55 0.7,6.35 0.35,5.85"/></g>
<g role="img" aria-label="154.81" fill="none" stroke="#eeeeee" stroke-width="1.05"><title>154.81</title><path transform="translate(795.83,27.80)" d="M0.8,1.95 C1.8,1.55 2.4,1.0 2.85,0.3 L2.85,6.7"/><path transform="translate(800.78,27.80)" d="M3.25,0.45 L0.85,0.45 L0.6,3.15 C1.0,2.85 1.4,2.7 1.9,2.7 C2.85,2.7 3.4,3.4 3.4,4.55 C3.4,5.8 2.7,6.55 1.75,6.55 C1.2,6.55 0.7,6.35 0.35,5.85"/><path transform="translate(805.73,27.80)" d="M2.75,6.7 L2.75,0.45 L0.3,4.75 L3.65,4.75"/><rect x="811.23" y="33.75" width="0.9" height="0.95" fill="#c8c8c8" stroke="none"/><path transform="translate(813.83,27.80)" d="M1.9,0.45 C2.7,0.45 3.15,1.0 3.15,1.85 C3.15,2.7 2.7,3.3 1.9,3.3 C1.1,3.3 0.65,2.7 0.65,1.85 C0.65,1.0 1.1,0.45 1.9,0.45 Z M1.9,3.3 C2.85,3.3 3.4,3.9 3.4,4.9 C3.4,5.95 2.85,6.55 1.9,6.55 C0.95,6.55 0.4,5.95 0.4,4.9 C0.4,3.9 0.95,3.3 1.9,3.3 Z"/><path transform="translate(818.78,27.80)" d="M0.8,1.95 C1.8,1.55 2.4,1.0 2.85,0.3 L2.85,6.7"/></g>
<rect x="0" y="546" width="840" height="1" fill="#a8a8a8"/>
<rect x="0" y="547" width="840" height="1" fill="#7c7c7c"/>
<rect x="0" y="548" width="840" height="1" fill="#363636"/>
<rect x="-0.15" y="586.6" width="2.3" height="14.80" fill="#1e90ff"/>
<rect x="5.54" y="586.6" width="2.3" height="14.40" fill="#1e90ff"/>
<rect x="11.23" y="586.6" width="2.3" height="14.40" fill="#1e90ff"/>
<rect x="16.92" y="586.6" width="2.3" height="14.40" fill="#1e90ff"/>
<rect x="22.61" y="586.6" width="2.3" height="13.40" fill="#1e90ff"/>
<rect x="28.30" y="586.6" width="2.3" height="13.40" fill="#1e90ff"/>
<rect x="33.99" y="586.6" width="2.3" height="13.40" fill="#1e90ff"/>
<rect x="39.68" y="586.6" width="2.3" height="13.40" fill="#1e90ff"/>
<rect x="45.37" y="586.6" width="2.3" height="12.80" fill="#1e90ff"/>
<rect x="51.06" y="586.6" width="2.3" height="12.80" fill="#1e90ff"/>
<rect x="56.75" y="586.6" width="2.3" height="10.80" fill="#1e90ff"/>
<rect x="62.44" y="586.6" width="2.3" height="7.40" fill="#1e90ff"/>
<rect x="68.13" y="586.6" width="2.3" height="4.80" fill="#1e90ff"/>
<rect x="73.82" y="586.6" width="2.3" height="4.00" fill="#1e90ff"/>
<rect x="79.51" y="586.6" width="2.3" height="2.40" fill="#1e90ff"/>
<rect x="85.20" y="586.6" width="2.3" height="2.80" fill="#1e90ff"/>
<rect x="90.89" y="585" width="2.3" height="1.60" fill="#1e90ff"/>
<rect x="96.58" y="581" width="2.3" height="5.60" fill="#1e90ff"/>
<rect x="102.27" y="577" width="2.3" height="9.60" fill="#1e90ff"/>
<rect x="107.96" y="574.6" width="2.3" height="12.00" fill="#1e90ff"/>
<rect x="113.65" y="571.4" width="2.3" height="15.20" fill="#1e90ff"/>
<rect x="119.34" y="568" width="2.3" height="18.60" fill="#1e90ff"/>
<rect x="125.03" y="567" width="2.3" height="19.60" fill="#1e90ff"/>
<rect x="130.72" y="570" width="2.3" height="16.60" fill="#1e90ff"/>
<rect x="136.41" y="573" width="2.3" height="13.60" fill="#1e90ff"/>
<rect x="142.10" y="575" width="2.3" height="11.60" fill="#1e90ff"/>
<rect x="147.79" y="578" width="2.3" height="8.60" fill="#1e90ff"/>
<rect x="153.48" y="578.6" width="2.3" height="8.00" fill="#1e90ff"/>
<rect x="159.17" y="581.6" width="2.3" height="5.00" fill="#1e90ff"/>
<rect x="164.86" y="582" width="2.3" height="4.60" fill="#1e90ff"/>
<rect x="170.55" y="584" width="2.3" height="2.60" fill="#1e90ff"/>
<rect x="176.24" y="585" width="2.3" height="1.60" fill="#1e90ff"/>
<rect x="181.93" y="586" width="2.3" height="0.80" fill="#1e90ff"/>
<rect x="187.62" y="586.6" width="2.3" height="2.00" fill="#1e90ff"/>
<rect x="193.31" y="586.6" width="2.3" height="4.80" fill="#1e90ff"/>
<rect x="199.00" y="586.6" width="2.3" height="7.40" fill="#1e90ff"/>
<rect x="204.69" y="586.6" width="2.3" height="11.40" fill="#1e90ff"/>
<rect x="210.38" y="586.6" width="2.3" height="14.00" fill="#1e90ff"/>
<rect x="216.07" y="586.6" width="2.3" height="15.40" fill="#1e90ff"/>
<rect x="221.76" y="586.6" width="2.3" height="16.00" fill="#1e90ff"/>
<rect x="227.45" y="586.6" width="2.3" height="17.40" fill="#1e90ff"/>
<rect x="233.14" y="586.6" width="2.3" height="18.00" fill="#1e90ff"/>
<rect x="238.83" y="586.6" width="2.3" height="16.80" fill="#1e90ff"/>
<rect x="244.52" y="586.6" width="2.3" height="15.40" fill="#1e90ff"/>
<rect x="250.21" y="586.6" width="2.3" height="14.40" fill="#1e90ff"/>
<rect x="255.90" y="586.6" width="2.3" height="14.00" fill="#1e90ff"/>
<rect x="261.59" y="586.6" width="2.3" height="12.40" fill="#1e90ff"/>
<rect x="267.28" y="586.6" width="2.3" height="10.00" fill="#1e90ff"/>
<rect x="272.97" y="586.6" width="2.3" height="7.40" fill="#1e90ff"/>
<rect x="278.66" y="586.6" width="2.3" height="5.40" fill="#1e90ff"/>
<rect x="284.35" y="586.6" width="2.3" height="3.40" fill="#1e90ff"/>
<rect x="290.04" y="586.6" width="2.3" height="2.40" fill="#1e90ff"/>
<rect x="295.73" y="586" width="2.3" height="0.80" fill="#1e90ff"/>
<rect x="301.42" y="581.4" width="2.3" height="5.20" fill="#1e90ff"/>
<rect x="307.11" y="577" width="2.3" height="9.60" fill="#1e90ff"/>
<rect x="312.80" y="574" width="2.3" height="12.60" fill="#1e90ff"/>
<rect x="318.49" y="572.6" width="2.3" height="14.00" fill="#1e90ff"/>
<rect x="324.18" y="571" width="2.3" height="15.60" fill="#1e90ff"/>
<rect x="329.87" y="570" width="2.3" height="16.60" fill="#1e90ff"/>
<rect x="335.56" y="568" width="2.3" height="18.60" fill="#1e90ff"/>
<rect x="341.25" y="567" width="2.3" height="19.60" fill="#1e90ff"/>
<rect x="346.94" y="566.6" width="2.3" height="20.00" fill="#1e90ff"/>
<rect x="352.63" y="566" width="2.3" height="20.60" fill="#1e90ff"/>
<rect x="358.32" y="563" width="2.3" height="23.60" fill="#1e90ff"/>
<rect x="364.01" y="561" width="2.3" height="25.60" fill="#1e90ff"/>
<rect x="369.70" y="560" width="2.3" height="26.60" fill="#1e90ff"/>
<rect x="375.39" y="560" width="2.3" height="26.60" fill="#1e90ff"/>
<rect x="381.08" y="560" width="2.3" height="26.60" fill="#1e90ff"/>
<rect x="386.77" y="561" width="2.3" height="25.60" fill="#1e90ff"/>
<rect x="392.46" y="563.4" width="2.3" height="23.20" fill="#1e90ff"/>
<rect x="398.15" y="566.6" width="2.3" height="20.00" fill="#1e90ff"/>
<rect x="403.84" y="570" width="2.3" height="16.60" fill="#1e90ff"/>
<rect x="409.53" y="573" width="2.3" height="13.60" fill="#1e90ff"/>
<rect x="415.22" y="575" width="2.3" height="11.60" fill="#1e90ff"/>
<rect x="420.91" y="575" width="2.3" height="11.60" fill="#1e90ff"/>
<rect x="426.60" y="574" width="2.3" height="12.60" fill="#1e90ff"/>
<rect x="432.29" y="573" width="2.3" height="13.60" fill="#1e90ff"/>
<rect x="437.98" y="573" width="2.3" height="13.60" fill="#1e90ff"/>
<rect x="443.67" y="573" width="2.3" height="13.60" fill="#1e90ff"/>
<rect x="449.36" y="574" width="2.3" height="12.60" fill="#1e90ff"/>
<rect x="455.05" y="574" width="2.3" height="12.60" fill="#1e90ff"/>
<rect x="460.74" y="574.6" width="2.3" height="12.00" fill="#1e90ff"/>
<rect x="466.43" y="578" width="2.3" height="8.60" fill="#1e90ff"/>
<rect x="472.12" y="577" width="2.3" height="9.60" fill="#1e90ff"/>
<rect x="477.81" y="576.6" width="2.3" height="10.00" fill="#1e90ff"/>
<rect x="483.50" y="576" width="2.3" height="10.60" fill="#1e90ff"/>
<rect x="489.19" y="575" width="2.3" height="11.60" fill="#1e90ff"/>
<rect x="494.88" y="575" width="2.3" height="11.60" fill="#1e90ff"/>
<rect x="500.57" y="574" width="2.3" height="12.60" fill="#1e90ff"/>
<rect x="506.26" y="574" width="2.3" height="12.60" fill="#1e90ff"/>
<rect x="511.95" y="576" width="2.3" height="10.60" fill="#1e90ff"/>
<rect x="517.64" y="576" width="2.3" height="10.60" fill="#1e90ff"/>
<rect x="523.33" y="576" width="2.3" height="10.60" fill="#1e90ff"/>
<rect x="529.02" y="576" width="2.3" height="10.60" fill="#1e90ff"/>
<rect x="534.71" y="577" width="2.3" height="9.60" fill="#1e90ff"/>
<rect x="540.40" y="580" width="2.3" height="6.60" fill="#1e90ff"/>
<rect x="546.09" y="582" width="2.3" height="4.60" fill="#1e90ff"/>
<rect x="551.78" y="583" width="2.3" height="3.60" fill="#1e90ff"/>
<rect x="557.47" y="583" width="2.3" height="3.60" fill="#1e90ff"/>
<rect x="563.16" y="582" width="2.3" height="4.60" fill="#1e90ff"/>
<rect x="568.85" y="584" width="2.3" height="2.60" fill="#1e90ff"/>
<rect x="574.54" y="583" width="2.3" height="3.60" fill="#1e90ff"/>
<rect x="580.23" y="583" width="2.3" height="3.60" fill="#1e90ff"/>
<rect x="585.92" y="579.4" width="2.3" height="7.20" fill="#1e90ff"/>
<rect x="591.61" y="576" width="2.3" height="10.60" fill="#1e90ff"/>
<rect x="597.30" y="571" width="2.3" height="15.60" fill="#1e90ff"/>
<rect x="602.99" y="564.6" width="2.3" height="22.00" fill="#1e90ff"/>
<rect x="608.68" y="559.4" width="2.3" height="27.20" fill="#1e90ff"/>
<rect x="614.37" y="557.4" width="2.3" height="29.20" fill="#1e90ff"/>
<rect x="620.06" y="554.6" width="2.3" height="32.00" fill="#1e90ff"/>
<rect x="625.75" y="554" width="2.3" height="32.60" fill="#1e90ff"/>
<rect x="631.44" y="552.6" width="2.3" height="34.00" fill="#1e90ff"/>
<rect x="637.13" y="552.6" width="2.3" height="34.00" fill="#1e90ff"/>
<rect x="642.82" y="552.6" width="2.3" height="34.00" fill="#1e90ff"/>
<rect x="648.51" y="554.6" width="2.3" height="32.00" fill="#1e90ff"/>
<rect x="654.20" y="555" width="2.3" height="31.60" fill="#1e90ff"/>
<rect x="659.89" y="557" width="2.3" height="29.60" fill="#1e90ff"/>
<rect x="665.58" y="557" width="2.3" height="29.60" fill="#1e90ff"/>
<rect x="671.27" y="557" width="2.3" height="29.60" fill="#1e90ff"/>
<rect x="676.96" y="556" width="2.3" height="30.60" fill="#1e90ff"/>
<rect x="682.65" y="557" width="2.3" height="29.60" fill="#1e90ff"/>
<rect x="688.34" y="557" width="2.3" height="29.60" fill="#1e90ff"/>
<rect x="694.03" y="557" width="2.3" height="29.60" fill="#1e90ff"/>
<rect x="699.72" y="559.4" width="2.3" height="27.20" fill="#1e90ff"/>
<rect x="705.41" y="562" width="2.3" height="24.60" fill="#1e90ff"/>
<rect x="711.10" y="564.6" width="2.3" height="22.00" fill="#1e90ff"/>
<rect x="716.79" y="567" width="2.3" height="19.60" fill="#1e90ff"/>
<rect x="722.48" y="567.4" width="2.3" height="19.20" fill="#1e90ff"/>
<rect x="728.17" y="569" width="2.3" height="17.60" fill="#1e90ff"/>
<rect x="733.86" y="570" width="2.3" height="16.60" fill="#1e90ff"/>
<rect x="739.55" y="571" width="2.3" height="15.60" fill="#1e90ff"/>
<rect x="745.24" y="570" width="2.3" height="16.60" fill="#1e90ff"/>
<rect x="750.93" y="570" width="2.3" height="16.60" fill="#1e90ff"/>
<rect x="756.62" y="570" width="2.3" height="16.60" fill="#1e90ff"/>
<rect x="762.31" y="570.8" width="2.3" height="15.80" fill="#1e90ff"/>
<rect x="768.00" y="571.6" width="2.3" height="15.00" fill="#1e90ff"/>
<rect x="773.69" y="573" width="2.3" height="13.60" fill="#1e90ff"/>
<rect x="779.38" y="573" width="2.3" height="13.60" fill="#1e90ff"/>
<rect x="785.07" y="573" width="2.3" height="13.60" fill="#1e90ff"/>
<rect x="790.76" y="572" width="2.3" height="14.60" fill="#1e90ff"/>
<rect x="796.45" y="569.8" width="2.3" height="16.80" fill="#1e90ff"/>
<rect x="802.14" y="569" width="2.3" height="17.60" fill="#1e90ff"/>
<rect x="807.83" y="568.2" width="2.3" height="18.40" fill="#1e90ff"/>
<rect x="813.52" y="568.2" width="2.3" height="18.40" fill="#1e90ff"/>
<rect x="819.21" y="569.6" width="2.3" height="17.00" fill="#1e90ff"/>
<rect x="824.90" y="569.6" width="2.3" height="17.00" fill="#1e90ff"/>
<rect x="830.59" y="570" width="2.3" height="16.60" fill="#1e90ff"/>
<rect x="836.28" y="570" width="2.3" height="16.60" fill="#1e90ff"/>
<polyline fill="none" stroke="#a00d2b" stroke-width="1" points="0,604.6 20,603 40,599.8 52,599.4 70,597.4 90,592.6 104,587 120,581 132,576 140,574 156,574 168,576.5 180,579.4 200,586 220,594 234,598 244,601 256,602.6 272,600.6 288,597 304,591.4 320,583.4 332,577 344,572 360,568 376,565 388,563 400,563 412,565 424,568 440,572 456,574 472,575 488,575.4 500,576 520,576 532,575 540,576 560,579.4 576,582 586,582.6 600,579.4 612,575 624,568 636,561 644,557.4 656,554.6 680,554.6 696,556.6 712,559 728,562.6 744,566.6 760,569.4 776,571.4 792,572 800.5,571.3 816.7,570.6 830.2,569.6 840,569.6"/>
<rect x="0" y="627" width="840" height="1" fill="#1c1c1c"/>
<rect x="0" y="628" width="840" height="1" fill="#969696"/>
<rect x="22.70" y="628" width="2" height="1" fill="#c8c8c8"/>
<rect x="22.70" y="629" width="2" height="1" fill="#707070"/>
<rect x="68.22" y="628" width="2" height="1" fill="#c8c8c8"/>
<rect x="68.22" y="629" width="2" height="1" fill="#707070"/>
<rect x="113.74" y="628" width="2" height="1" fill="#c8c8c8"/>
<rect x="113.74" y="629" width="2" height="1" fill="#707070"/>
<rect x="159.26" y="628" width="2" height="1" fill="#c8c8c8"/>
<rect x="159.26" y="629" width="2" height="1" fill="#707070"/>
<rect x="204.78" y="628" width="2" height="1" fill="#c8c8c8"/>
<rect x="204.78" y="629" width="2" height="1" fill="#707070"/>
<rect x="250.30" y="628" width="2" height="1" fill="#c8c8c8"/>
<rect x="250.30" y="629" width="2" height="1" fill="#707070"/>
<rect x="295.82" y="628" width="2" height="1" fill="#c8c8c8"/>
<rect x="295.82" y="629" width="2" height="1" fill="#707070"/>
<rect x="341.34" y="628" width="2" height="1" fill="#c8c8c8"/>
<rect x="341.34" y="629" width="2" height="1" fill="#707070"/>
<rect x="386.86" y="628" width="2" height="1" fill="#c8c8c8"/>
<rect x="386.86" y="629" width="2" height="1" fill="#707070"/>
<rect x="432.38" y="628" width="2" height="1" fill="#c8c8c8"/>
<rect x="432.38" y="629" width="2" height="1" fill="#707070"/>
<rect x="477.90" y="628" width="2" height="1" fill="#c8c8c8"/>
<rect x="477.90" y="629" width="2" height="1" fill="#707070"/>
<rect x="523.42" y="628" width="2" height="1" fill="#c8c8c8"/>
<rect x="523.42" y="629" width="2" height="1" fill="#707070"/>
<rect x="568.94" y="628" width="2" height="1" fill="#c8c8c8"/>
<rect x="568.94" y="629" width="2" height="1" fill="#707070"/>
<rect x="614.46" y="628" width="2" height="1" fill="#c8c8c8"/>
<rect x="614.46" y="629" width="2" height="1" fill="#707070"/>
<rect x="659.98" y="628" width="2" height="1" fill="#c8c8c8"/>
<rect x="659.98" y="629" width="2" height="1" fill="#707070"/>
<rect x="705.50" y="628" width="2" height="1" fill="#c8c8c8"/>
<rect x="705.50" y="629" width="2" height="1" fill="#707070"/>
<rect x="751.02" y="628" width="2" height="1" fill="#c8c8c8"/>
<rect x="751.02" y="629" width="2" height="1" fill="#707070"/>
<rect x="796.54" y="628" width="2" height="1" fill="#c8c8c8"/>
<rect x="796.54" y="629" width="2" height="1" fill="#707070"/>
<rect x="842.06" y="628" width="2" height="1" fill="#c8c8c8"/>
<rect x="842.06" y="629" width="2" height="1" fill="#707070"/>
</svg></body></html>
